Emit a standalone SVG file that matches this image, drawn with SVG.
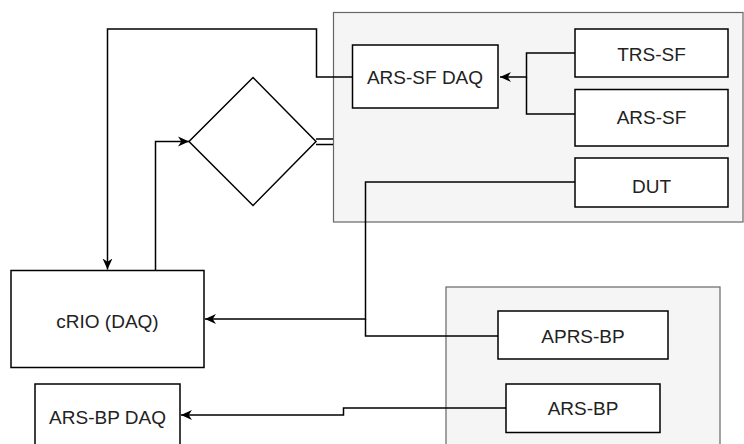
<svg xmlns="http://www.w3.org/2000/svg" width="744" height="444" viewBox="0 0 744 444">
<style>
.grp{fill:#f5f5f5;stroke:#666666;stroke-width:1.2}
.box{fill:#ffffff;stroke:#000000;stroke-width:1.5}
.lbl{font-family:"Liberation Sans",Arial,sans-serif;font-size:19px;fill:#222222;text-anchor:middle}
.edge{fill:none;stroke:#000000;stroke-width:1.5}
</style>
<defs>
<marker id="arr" viewBox="0 0 10 10" refX="10" refY="5" markerWidth="11" markerHeight="11" markerUnits="userSpaceOnUse" orient="auto">
<path d="M0,0.5 L10,5 L0,9.5 L3,5 Z" fill="#000000"/>
</marker>
</defs>
<rect width="744" height="444" fill="#ffffff"/>
<g id="group-sf">
<rect class="grp" x="333.5" y="12.5" width="409.5" height="209.5"/>
</g>
<g id="group-bp">
<rect class="grp" x="446" y="287" width="274" height="170"/>
</g>
<g id="connectors">
<path class="edge" d="M575,53 H526.5 V77 H500" marker-end="url(#arr)"/>
<path class="edge" d="M575,114 H526.5 V77"/>
<path class="edge" d="M352,77 H316.5 V29 H107.5 V269.5" marker-end="url(#arr)"/>
<path class="edge" d="M155.5,270 V141.5 H189" marker-end="url(#arr)"/>
<path class="edge" d="M316,139 H333 M316,144.5 H333"/>
<path class="edge" d="M575,182 H365.5 V319 H205" marker-end="url(#arr)"/>
<path class="edge" d="M498,336 H365.5 V319"/>
<path class="edge" d="M506,408 H343.5 V415 H181" marker-end="url(#arr)"/>
</g>
<g id="ars-sf-daq">
<rect class="box" x="352.5" y="45" width="145.5" height="63"/>
<text class="lbl" x="425" y="84">ARS-SF DAQ</text>
</g>
<g id="trs-sf">
<rect class="box" x="575" y="29" width="153" height="48"/>
<text class="lbl" x="651.5" y="60.5">TRS-SF</text>
</g>
<g id="ars-sf">
<rect class="box" x="575" y="89.5" width="153" height="56.5"/>
<text class="lbl" x="651.5" y="123.5">ARS-SF</text>
</g>
<g id="dut">
<rect class="box" x="575" y="158" width="153" height="49"/>
<text class="lbl" x="651.5" y="192.5">DUT</text>
</g>
<g id="decision">
<path class="box" d="M253,77.5 L316,141.5 L253,205.5 L189,141.5 Z"/>
</g>
<g id="crio">
<rect class="box" x="11" y="270.5" width="193" height="97"/>
<text class="lbl" x="107.5" y="328">cRIO (DAQ)</text>
</g>
<g id="aprs-bp">
<rect class="box" x="498" y="311" width="170" height="48"/>
<text class="lbl" x="583" y="342.5">APRS-BP</text>
</g>
<g id="ars-bp">
<rect class="box" x="506" y="384" width="154" height="48.5"/>
<text class="lbl" x="583" y="414.5">ARS-BP</text>
</g>
<g id="ars-bp-daq">
<rect class="box" x="35" y="384" width="145" height="70"/>
<text class="lbl" x="107.5" y="424">ARS-BP DAQ</text>
</g>
</svg>
